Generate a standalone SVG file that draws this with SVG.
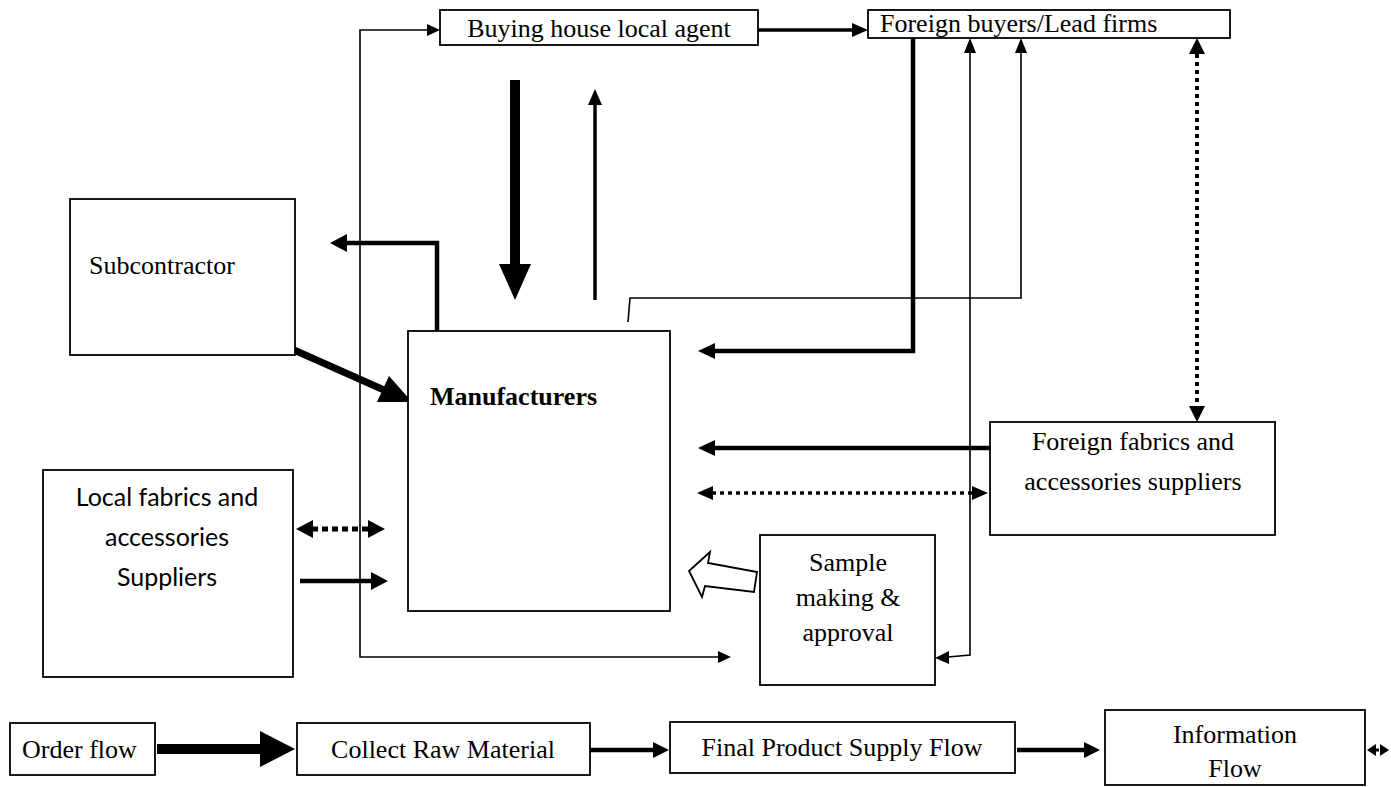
<svg xmlns="http://www.w3.org/2000/svg" width="1391" height="787" viewBox="0 0 1391 787">
<style>
  .box { fill: #fff; stroke: #000; stroke-width: 1.8; }
  .t { font-family: "Liberation Serif", "Times New Roman", serif; font-size: 26px; fill: #000; }
  .tb { font-family: "Liberation Serif", "Times New Roman", serif; font-size: 26px; font-weight: bold; fill: #000; }
  .ts { font-family: Lato, "Liberation Sans", sans-serif; font-size: 25px; fill: #000; }
  .mid { text-anchor: middle; }
  .ln { fill: none; stroke: #000; }
  .thin { stroke-width: 1.6; }
  .med { stroke-width: 3.5; }
  .thick { stroke-width: 4.5; }
  .dot { stroke-dasharray: 4 4; }
  .head { fill: #000; stroke: none; }
</style>
<rect width="1391" height="787" fill="#fff"/>

<g id="connectors">
  <!-- loop from bottom-left to buying house and sample -->
  <path class="ln thin" d="M428,30 H360 V657 H718"/>
  <polygon class="head" points="440,30 427,24 427,36"/>
  <polygon class="head" points="731,657 718,651 718,663"/>
  <!-- buying house to foreign buyers -->
  <path class="ln med" d="M758,30 H853"/>
  <polygon class="head" points="868,30 852,23 852,37"/>
  <!-- buying house to manufacturers (order flow) -->
  <path class="ln" stroke-width="10" d="M515,80 V266"/>
  <polygon class="head" points="515,300 499,264 531,264"/>
  <!-- manufacturers to buying house -->
  <path class="ln med" d="M595,300 V104"/>
  <polygon class="head" points="595,89 588,105 602,105"/>
  <!-- manufacturers to subcontractor -->
  <path class="ln thick" d="M437,331 V243 H345"/>
  <polygon class="head" points="330,243 347,234 347,252"/>
  <!-- subcontractor to manufacturers -->
  <path class="ln" stroke-width="7" d="M294,350 L384,390"/>
  <polygon class="head" points="412,402 377,402 389,376"/>
  <!-- foreign buyers to manufacturers -->
  <path class="ln thick" d="M913,38 V351 H713"/>
  <polygon class="head" points="698,351 715,343 715,359"/>
  <!-- sample to foreign buyers -->
  <path class="ln thin" d="M970,52 V655 L948,657"/>
  <polygon class="head" points="970,38 964,53 976,53"/>
  <polygon class="head" points="935,658 949,651 949,664"/>
  <!-- manufacturers to foreign buyers -->
  <path class="ln thin" d="M628,322 L630,298 H1021 V52"/>
  <polygon class="head" points="1021,38 1015,53 1027,53"/>
  <!-- foreign buyers <-> foreign fabrics (info) -->
  <path class="ln dot" stroke-width="4" d="M1197,54 V406"/>
  <polygon class="head" points="1197,38 1189,54 1205,54"/>
  <polygon class="head" points="1197,422 1189,406 1205,406"/>
  <!-- foreign fabrics to manufacturers -->
  <path class="ln thick" d="M990,448 H713"/>
  <polygon class="head" points="698,448 715,440 715,456"/>
  <!-- foreign fabrics <-> manufacturers (info) -->
  <path class="ln dot" stroke-width="3.5" d="M712,493 H973"/>
  <polygon class="head" points="697,493 713,486 713,500"/>
  <polygon class="head" points="988,493 972,486 972,500"/>
  <!-- local <-> manufacturers (info) -->
  <path class="ln" stroke-width="5" stroke-dasharray="6 4" d="M312,529 H368"/>
  <polygon class="head" points="296,529 313,520 313,538"/>
  <polygon class="head" points="385,529 368,520 368,538"/>
  <!-- local to manufacturers -->
  <path class="ln thick" d="M300,581 H372"/>
  <polygon class="head" points="388,581 371,572 371,590"/>
  <!-- sample to manufacturers (hollow block arrow) -->
  <polygon fill="#fff" stroke="#000" stroke-width="1.8" points="757,572 708,563 710,552 689,571 702,597 705,586 754,592"/>
  <!-- legend arrows -->
  <path class="ln" stroke-width="10" d="M157,749 H262"/>
  <polygon class="head" points="295,749 260,731 260,767"/>
  <path class="ln thick" d="M590,750 H654"/>
  <polygon class="head" points="669,750 653,742 653,758"/>
  <path class="ln thick" d="M1017,750 H1085"/>
  <polygon class="head" points="1100,750 1084,742 1084,758"/>
  <path class="ln dot" stroke-width="3" stroke-dasharray="3 2" d="M1375,750 H1382"/>
  <polygon class="head" points="1367,750 1376,744 1376,756"/>
  <polygon class="head" points="1389,750 1380,744 1380,756"/>
</g>

<g id="buying-house">
  <rect class="box" x="440" y="10" width="318" height="35"/>
  <text class="t mid" x="599" y="37">Buying house local agent</text>
</g>
<g id="foreign-buyers">
  <rect class="box" x="868" y="10" width="362" height="28"/>
  <text class="t" x="880" y="32">Foreign buyers/Lead firms</text>
</g>
<g id="subcontractor">
  <rect class="box" x="70" y="199" width="225" height="156"/>
  <text class="t" x="89" y="274">Subcontractor</text>
</g>
<g id="manufacturers">
  <rect class="box" x="408" y="331" width="262" height="280"/>
  <text class="tb" x="430" y="405">Manufacturers</text>
</g>
<g id="foreign-fabrics">
  <rect class="box" x="990" y="422" width="285" height="113"/>
  <text class="t mid" x="1133" y="450">Foreign fabrics and</text>
  <text class="t mid" x="1133" y="490">accessories suppliers</text>
</g>
<g id="local-fabrics">
  <rect class="box" x="43" y="470" width="250" height="207"/>
  <text class="ts mid" x="167" y="506">Local fabrics and</text>
  <text class="ts mid" x="167" y="546">accessories</text>
  <text class="ts mid" x="167" y="586">Suppliers</text>
</g>
<g id="sample">
  <rect class="box" x="760" y="535" width="175" height="150"/>
  <text class="t mid" x="848" y="571">Sample</text>
  <text class="t mid" x="848" y="606">making &amp;</text>
  <text class="t mid" x="848" y="641">approval</text>
</g>
<g id="legend-order">
  <rect class="box" x="10" y="723" width="145" height="52"/>
  <text class="t" x="22" y="758">Order flow</text>
</g>
<g id="legend-raw">
  <rect class="box" x="297" y="723" width="293" height="52"/>
  <text class="t mid" x="443" y="758">Collect Raw Material</text>
</g>
<g id="legend-final">
  <rect class="box" x="670" y="722" width="345" height="51"/>
  <text class="t mid" x="842" y="756">Final Product Supply Flow</text>
</g>
<g id="legend-info">
  <rect class="box" x="1105" y="710" width="260" height="75"/>
  <text class="t mid" x="1235" y="743">Information</text>
  <text class="t mid" x="1235" y="777">Flow</text>
</g>
</svg>
